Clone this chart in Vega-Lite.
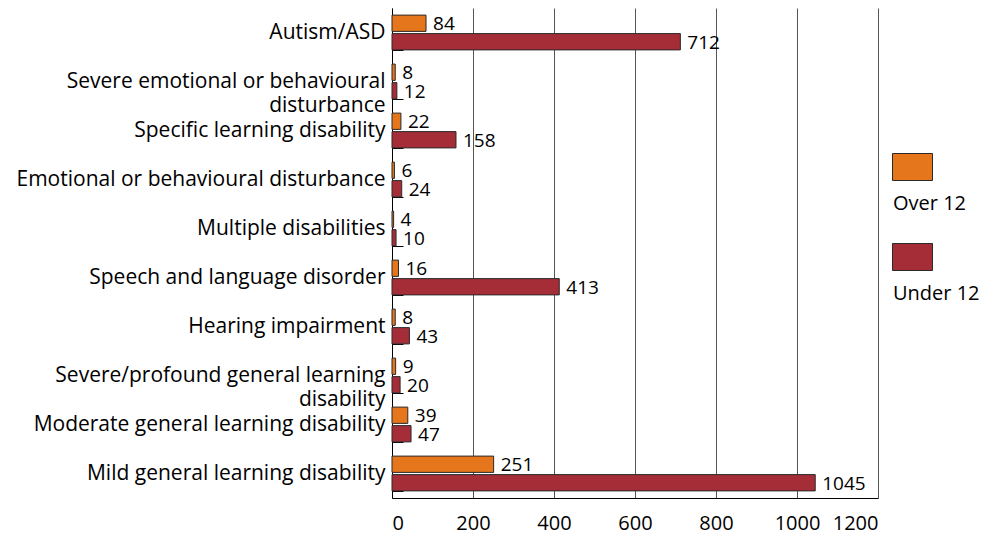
{
  "$schema": "https://vega.github.io/schema/vega-lite/v6.json",
  "autosize": {"type": "none"},
  "width": 486,
  "height": 490,
  "padding": {"left": 392, "top": 8, "right": 108, "bottom": 43},
  "background": "white",
  "config": {
    "font": "Open Sans",
    "view": {"stroke": null}
  },
  "data": {
    "values": [
      {"category": "Autism/ASD", "group": "Over 12", "value": 84},
      {"category": "Autism/ASD", "group": "Under 12", "value": 712},
      {"category": "Severe emotional or behavioural disturbance", "group": "Over 12", "value": 8},
      {"category": "Severe emotional or behavioural disturbance", "group": "Under 12", "value": 12},
      {"category": "Specific learning disability", "group": "Over 12", "value": 22},
      {"category": "Specific learning disability", "group": "Under 12", "value": 158},
      {"category": "Emotional or behavioural disturbance", "group": "Over 12", "value": 6},
      {"category": "Emotional or behavioural disturbance", "group": "Under 12", "value": 24},
      {"category": "Multiple disabilities", "group": "Over 12", "value": 4},
      {"category": "Multiple disabilities", "group": "Under 12", "value": 10},
      {"category": "Speech and language disorder", "group": "Over 12", "value": 16},
      {"category": "Speech and language disorder", "group": "Under 12", "value": 413},
      {"category": "Hearing impairment", "group": "Over 12", "value": 8},
      {"category": "Hearing impairment", "group": "Under 12", "value": 43},
      {"category": "Severe/profound general learning disability", "group": "Over 12", "value": 9},
      {"category": "Severe/profound general learning disability", "group": "Under 12", "value": 20},
      {"category": "Moderate general learning disability", "group": "Over 12", "value": 39},
      {"category": "Moderate general learning disability", "group": "Under 12", "value": 47},
      {"category": "Mild general learning disability", "group": "Over 12", "value": 251},
      {"category": "Mild general learning disability", "group": "Under 12", "value": 1045}
    ]
  },
  "encoding": {
    "y": {
      "field": "category",
      "type": "nominal",
      "sort": null,
      "title": null,
      "scale": {"paddingInner": 0.29, "paddingOuter": 0.145},
      "axis": {
        "labelFontSize": 21,
        "labelColor": "#000",
        "labelLimit": 500,
        "labelLineHeight": 24,
        "labelPadding": 18,
        "tickBand": "extent",
        "tickSize": -11,
        "tickColor": "#000",
        "domainColor": "#000",
        "labelExpr": "datum.label == 'Severe emotional or behavioural disturbance' ? ['Severe emotional or behavioural', 'disturbance'] : datum.label == 'Severe/profound general learning disability' ? ['Severe/profound general learning', 'disability'] : datum.label"
      }
    },
    "yOffset": {
      "field": "group",
      "type": "nominal",
      "sort": ["Over 12", "Under 12"],
      "scale": {"paddingInner": 0.12}
    },
    "x": {
      "field": "value",
      "type": "quantitative",
      "title": null,
      "scale": {"domain": [0, 1200], "nice": false},
      "axis": {
        "values": [0, 200, 400, 600, 800, 1000, 1200],
        "format": "d",
        "labelFontSize": 20,
        "labelColor": "#000",
        "labelPadding": 15,
        "ticks": false,
        "domainColor": "#000",
        "grid": true,
        "gridColor": "#555",
        "gridWidth": 1
      }
    }
  },
  "layer": [
    {
      "mark": {"type": "bar", "stroke": "#2a2a2a", "strokeWidth": 1},
      "encoding": {
        "color": {
          "field": "group",
          "type": "nominal",
          "sort": ["Over 12", "Under 12"],
          "scale": {"domain": ["Over 12", "Under 12"], "range": ["#E5761C", "#A52D38"]},
          "legend": {
            "title": null,
            "orient": "none",
            "legendX": 500,
            "legendY": 175,
            "symbolType": "M-1,-2.5H1V-1.15H-1Z",
            "symbolSize": 1600,
            "symbolStrokeColor": "#2a2a2a",
            "symbolStrokeWidth": 1,
            "symbolOpacity": 1,
            "labelOffset": -40,
            "labelFontSize": 20,
            "labelColor": "#000",
            "rowPadding": 27
          }
        }
      }
    },
    {
      "mark": {"type": "text", "align": "left", "baseline": "middle", "dx": 7, "dy": 1, "fontSize": 19, "color": "#000"},
      "encoding": {
        "text": {"field": "value", "type": "quantitative", "format": "d"}
      }
    }
  ]
}
